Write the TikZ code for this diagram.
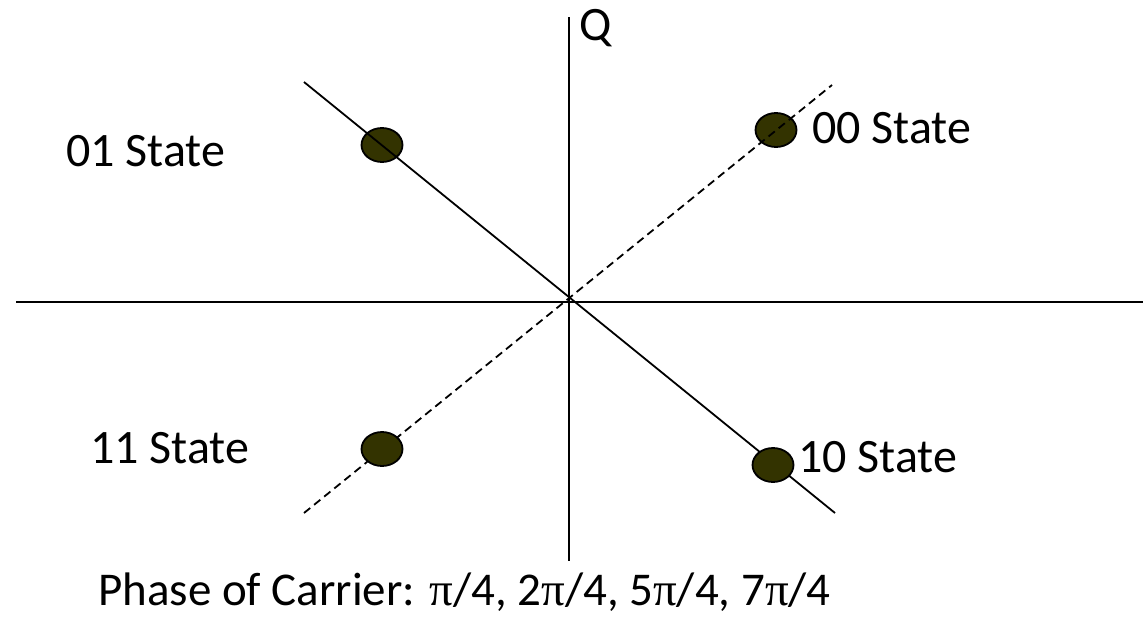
\documentclass[tikz,border=0pt]{standalone}
\usepackage{fontspec}
\setmainfont{Carlito}
\newfontfamily\pifont{Liberation Serif}
\usetikzlibrary{shapes.geometric}
\definecolor{olivedot}{HTML}{333300}
\begin{document}
\begin{tikzpicture}[x=1pt,y=-1pt,
  axis/.style={line width=2pt,black},
  solidline/.style={line width=1.8pt,black},
  dashline/.style={line width=1.8pt,black,dash pattern=on 8pt off 5pt},
  dot/.style={ellipse,draw=black,line width=1.8pt,fill=olivedot,minimum width=41pt,minimum height=34pt,inner sep=0pt},
  lbl/.style={anchor=base west,inner sep=0pt,font=\fontsize{48}{58}\selectfont}]
\useasboundingbox (0,0) rectangle (1143,616);
\coordinate (qtop) at (569,17);
\coordinate (qbot) at (569,561);
\coordinate (ileft) at (16,302);
\coordinate (iright) at (1143,302);
\coordinate (s1) at (304,82);
\coordinate (s2) at (835,513);
\coordinate (d1) at (304,513);
\coordinate (d2) at (832,85);
\draw[axis] (qtop) -- (qbot);
\draw[axis] (ileft) -- (iright);
\node[dot] (p01) at (382,145) {};
\node[dot] (p00) at (776,130) {};
\draw[solidline] (s1) -- (s2);
\draw[dashline] (d1) -- (d2);
\node[dot] (p11) at (382,449) {};
\node[dot] (p10) at (773,465) {};
\node[lbl] (q) at (579,40) {Q};
\node[lbl] (l01) at (66,166) {01 State};
\node[lbl] (l00) at (812,143) {00 State};
\node[lbl] (l11) at (90,463) {11 State};
\node[lbl] (l10) at (798,472) {10 State};
\node[lbl,font=\fontsize{47}{56}\selectfont] (phase) at (98,605) {Phase of Carrier: {\pifont π}/4, 2{\pifont π}/4, 5{\pifont π}/4, 7{\pifont π}/4};
\end{tikzpicture}
\end{document}
